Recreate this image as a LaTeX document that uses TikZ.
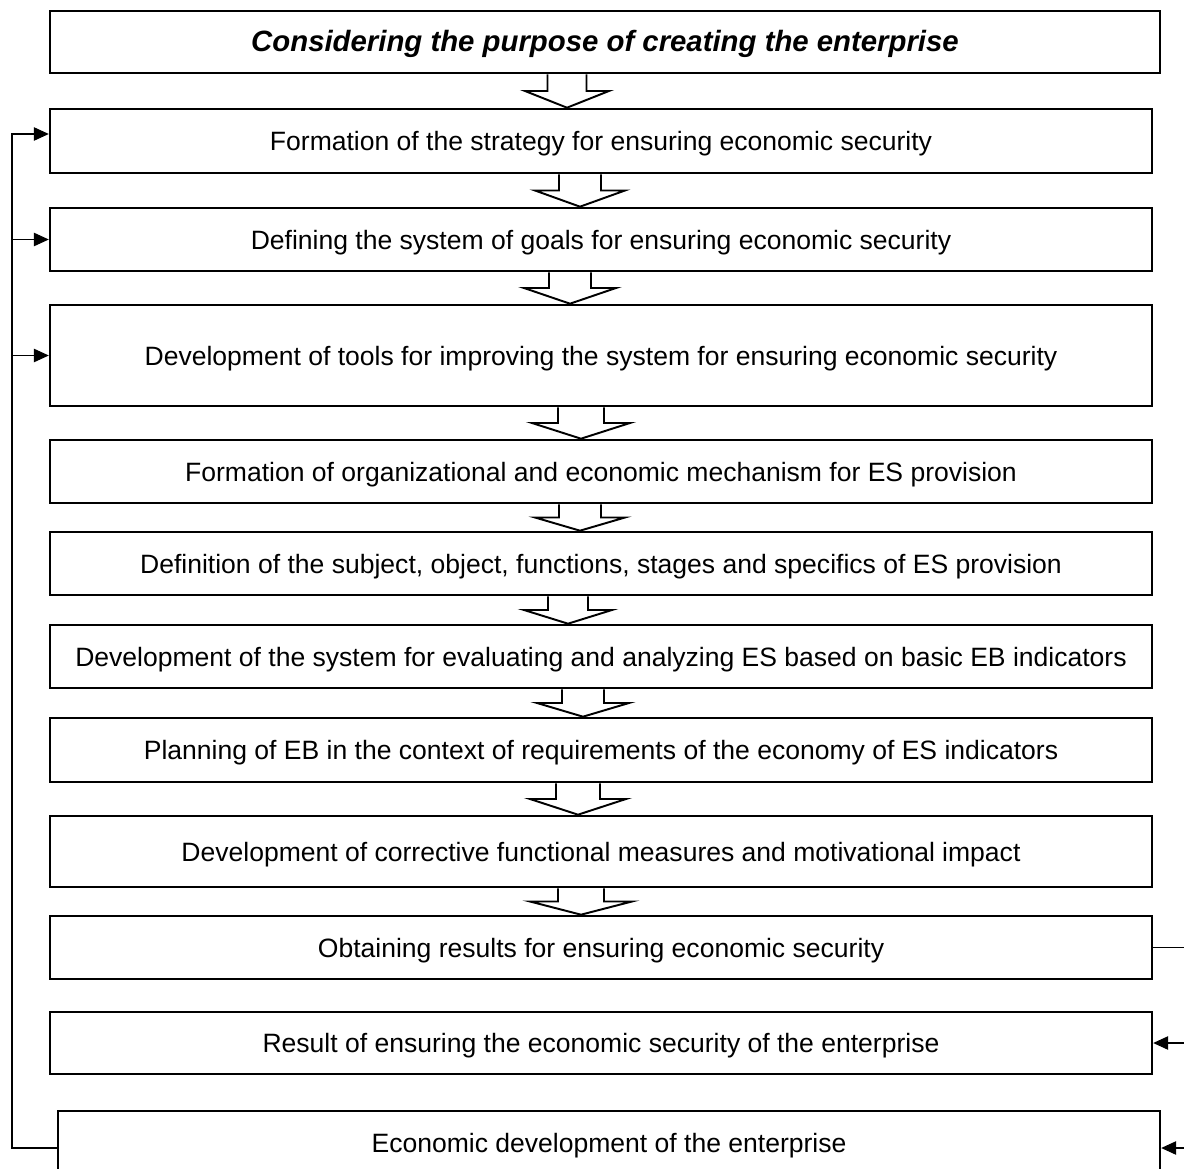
\documentclass[tikz,border=0pt]{standalone}
\usepackage{fontspec}
\setmainfont{Liberation Sans}
\usetikzlibrary{arrows.meta,calc}

% hollow block arrow between two stages: from, to, x, shaft half-width, head half-width
\newcommand{\flowarrow}[5]{%
  \coordinate (ax) at (#3,0);
  \coordinate (at) at (#1.south -| ax);
  \coordinate (ab) at (#2.north -| ax);
  \coordinate (am) at ($(at)!0.5!(ab)$);
  \draw[hollow] ($(at)+(-#4,0)$) -- ($(am)+(-#4,0)$) -- ($(am)+(-#5,0)$) -- (ab)
    -- ($(am)+(#5,0)$) -- ($(am)+(#4,0)$) -- ($(at)+(#4,0)$);
}

\begin{document}
\begin{tikzpicture}[x=0.02cm, y=-0.02cm,
    every node/.style={font=\fontsize{15.1}{18}\selectfont, text height=14.2pt, text depth=3pt},
    stage/.style={draw, line width=1.5pt, inner sep=0pt, minimum width=22.04cm, minimum height=1.26cm},
    hollow/.style={draw, line width=1.1pt, fill=white, line join=miter},
    link/.style={line width=0.6pt},
    feed/.style={link, -{Triangle[length=0.3cm, width=0.27cm]}}]

        \useasboundingbox (0,0) rectangle (1184,1169);

        % ==================================================
        % Stages (top to bottom)
        % ==================================================
        \node[stage, minimum width=22.2cm, minimum height=1.24cm,
              font=\fontsize{16.7}{20}\selectfont\bfseries\itshape] (purpose) at (605,42)
          {Considering the purpose of creating the enterprise};
        \node[stage, minimum height=1.28cm] (strategy) at (601,141)
          {Formation of the strategy for ensuring economic security};
        \node[stage] (goals) at (601,239.5)
          {Defining the system of goals for ensuring economic security};
        \node[stage, minimum height=2.02cm] (tools) at (601,355.5)
          {Development of tools for improving the system for ensuring economic security};
        \node[stage] (mechanism) at (601,471.5)
          {Formation of organizational and economic mechanism for ES provision};
        \node[stage] (subject) at (601,563.5)
          {Definition of the subject, object, functions, stages and specifics of ES provision};
        \node[stage] (evaluation) at (601,656.5)
          {Development of the system for evaluating and analyzing ES based on basic EB indicators};
        \node[stage, minimum height=1.28cm] (planning) at (601,750)
          {Planning of EB in the context of requirements of the economy of ES indicators};
        \node[stage, minimum height=1.42cm] (measures) at (601,851.5)
          {Development of corrective functional measures and motivational impact};
        \node[stage] (obtaining) at (601,947.5)
          {Obtaining results for ensuring economic security};
        \node[stage, minimum height=1.24cm] (result) at (601,1043)
          {Result of ensuring the economic security of the enterprise};
        \node[stage, minimum height=1.28cm] (econdev) at (609,1143)
          {Economic development of the enterprise};

        % -- Hollow arrows between the stages
        \flowarrow{purpose}{strategy}{567}{19.5}{42}
        \flowarrow{strategy}{goals}{580}{21}{45}
        \flowarrow{goals}{tools}{570}{21}{46}
        \flowarrow{tools}{mechanism}{581}{23}{49}
        \flowarrow{mechanism}{subject}{580}{21}{45}
        \flowarrow{subject}{evaluation}{568}{20}{44}
        \flowarrow{evaluation}{planning}{583}{21}{46}
        \flowarrow{planning}{measures}{578}{22}{48}
        \flowarrow{measures}{obtaining}{581}{23}{51}

        % ==================================================
        % Feedback lines
        % ==================================================
        \coordinate (lbus) at (12,0);
        \coordinate (rbus) at (1195,0);

        % -- Right side: results go on to the last two stages
        \draw[link] (obtaining.east) -- (obtaining.east -| rbus) -- ($(econdev.east -| rbus)+(0,5)$);
        \draw[feed] (result.east -| rbus) -- (result.east);
        \draw[feed] ($(econdev.east -| rbus)+(0,5)$) -- ($(econdev.east)+(0,5)$);

        % -- Left side: economic development back to the first stages
        \draw[feed] ($(econdev.west)+(0,5)$) -| ($(lbus |- strategy.west)+(0,-7)$) -- ($(strategy.west)+(0,-7)$);
        \draw[feed] (lbus |- goals.west) -- (goals.west);
        \draw[feed] (lbus |- tools.west) -- (tools.west);

      \end{tikzpicture}
\end{document}
